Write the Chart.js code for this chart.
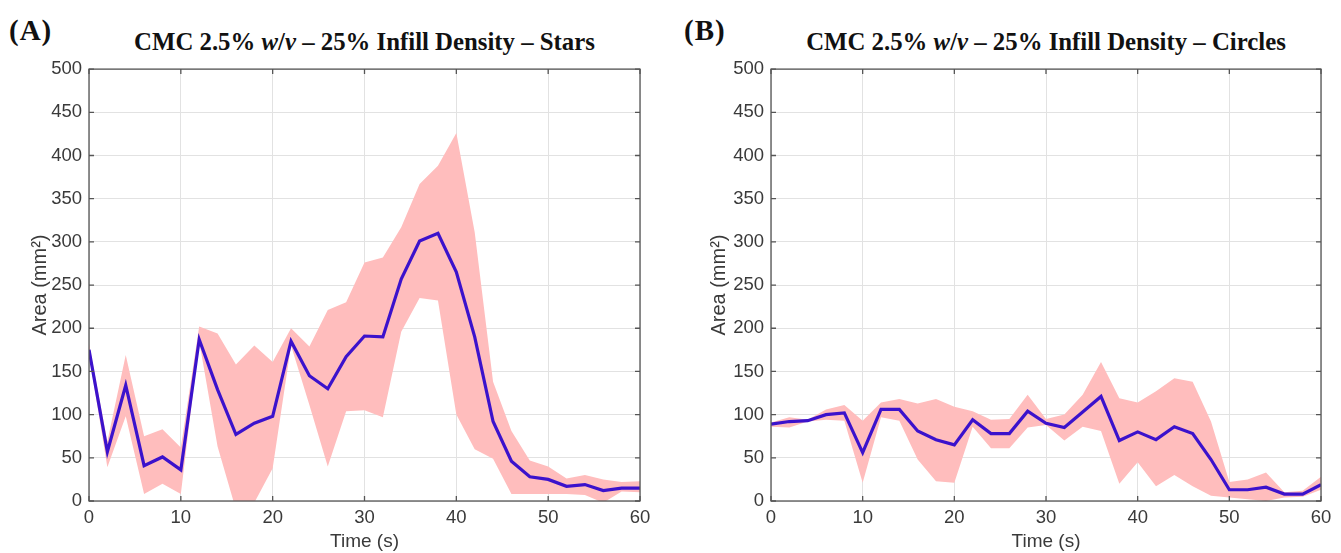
<!DOCTYPE html>
<html>
<head>
<meta charset="utf-8">
<title>CMC 2.5% w/v – 25% Infill Density</title>
<script src="https://cdn.jsdelivr.net/npm/chart.js@4/dist/chart.umd.min.js"></script>
<style>
  html, body {
    margin: 0;
    padding: 0;
    background: #fff;
    width: 1341px;
    height: 553px;
    overflow: hidden;
  }
  .panel-label {
    position: absolute;
    font-family: "Liberation Serif", "Times New Roman", serif;
    font-weight: bold;
    font-size: 29px;
    line-height: 29px;
    letter-spacing: 1px;
    color: #111;
  }
  .panel-title {
    position: absolute;
    font-family: "Liberation Serif", "Times New Roman", serif;
    font-weight: bold;
    font-size: 24.8px;
    line-height: 25px;
    text-align: center;
    color: #111;
    white-space: nowrap;
  }
  canvas {
    position: absolute;
  }
</style>
</head>
<body>
<div class="panel-label" style="left: 9px; top: 16px">(A)</div>
<div class="panel-title" style="left: 89px; top: 29px; width: 551px">CMC 2.5% <i>w</i>/<i>v</i> – 25% Infill Density – Stars</div>
<canvas id="starsChart" width="660" height="502" style="left: 0px; top: 51px"></canvas>

<div class="panel-label" style="left: 684px; top: 16px">(B)</div>
<div class="panel-title" style="left: 771px; top: 29px; width: 550px">CMC 2.5% <i>w</i>/<i>v</i> – 25% Infill Density – Circles</div>
<canvas id="circlesChart" width="671" height="502" style="left: 670px; top: 51px"></canvas>

<script>
// sampling times (s)
const timeSec = [0, 2, 4, 6, 8, 10, 12, 14, 16, 18, 20, 22, 24, 26, 28, 30,
  32, 34, 36, 38, 40, 42, 44, 46, 48, 50, 52, 54, 56, 58, 60];

// (A) stars: mean area and the shaded band (mm^2)
const starsMean = [175, 57, 134, 41, 51, 36, 187, 129, 77, 90, 98, 185, 145, 130, 167, 191,
  190, 257, 301, 310, 265, 190, 92, 46, 28, 25, 17, 19, 12, 15, 15];
const starsUpper = [182, 69, 169, 75, 83, 62, 202, 194, 158, 180, 161, 200, 179, 221, 230, 276,
  282, 317, 367, 388, 426, 311, 138, 81, 47, 40, 26, 30, 25, 22, 23];
const starsLower = [170, 39, 98, 8, 20, 8, 185, 63, -10, -2, 38, 180, 111, 40, 104, 105,
  97, 196, 235, 232, 100, 60, 49, 8, 8, 8, 8, 7, -2, 11, 10];

// (B) circles
const circlesMean = [89, 92, 93, 100, 102, 56, 106, 106, 81, 71, 65, 94, 78, 78, 104, 90,
  85, 103, 121, 70, 80, 71, 86, 78, 48, 13, 13, 16, 8, 8, 19];
const circlesUpper = [91, 97, 94, 106, 111, 93, 114, 118, 113, 118, 109, 104, 94, 95, 123, 95,
  100, 123, 161, 119, 114, 127, 142, 138, 92, 22, 25, 33, 10, 12, 28];
const circlesLower = [86, 85, 92, 94, 93, 21, 97, 93, 48, 23, 21, 86, 61, 61, 85, 88,
  70, 86, 81, 20, 45, 17, 30, 17, 6, 4, 2, 0, 4, 5, 13];

const xTicks = [0, 10, 20, 30, 40, 50, 60];
const yTicks = [0, 50, 100, 150, 200, 250, 300, 350, 400, 450, 500];

const lineColor = "#3b12cc";
const bandColor = "#ffbdbd";
const axisFont = "'Liberation Sans', Arial, Helvetica, sans-serif";

function toPoints(values) {
  return values.map((v, i) => ({ x: timeSec[i], y: v }));
}

// box around the axes with short inward ticks on every side
const boxTicks = {
  id: "boxTicks",
  afterDraw(chart) {
    const { ctx, chartArea: a, scales } = chart;
    const len = 5;
    ctx.save();
    ctx.strokeStyle = "#555";
    ctx.lineWidth = 1.3;
    ctx.strokeRect(a.left, a.top, a.right - a.left, a.bottom - a.top);
    ctx.beginPath();
    xTicks.forEach((t) => {
      const px = scales.x.getPixelForValue(t);
      ctx.moveTo(px, a.bottom);
      ctx.lineTo(px, a.bottom - len);
      ctx.moveTo(px, a.top);
      ctx.lineTo(px, a.top + len);
    });
    yTicks.forEach((t) => {
      const py = scales.y.getPixelForValue(t);
      ctx.moveTo(a.left, py);
      ctx.lineTo(a.left + len, py);
      ctx.moveTo(a.right, py);
      ctx.lineTo(a.right - len, py);
    });
    ctx.stroke();
    ctx.restore();
  },
};

function makePanel(canvasId, mean, upper, lower, yAxisWidth, yTitlePad) {
  var ctx = document.getElementById(canvasId).getContext("2d");
  return new Chart(ctx, {
    type: "line",
    data: {
      datasets: [
        {
          label: "Mean",
          data: toPoints(mean),
          borderColor: lineColor,
          borderWidth: 3.2,
          pointRadius: 0,
          fill: false,
          tension: 0,
        },
        {
          label: "Upper",
          data: toPoints(upper),
          borderWidth: 0,
          borderColor: "rgba(0,0,0,0)",
          backgroundColor: bandColor,
          pointRadius: 0,
          fill: "+1",
          tension: 0,
        },
        {
          label: "Lower",
          data: toPoints(lower),
          borderWidth: 0,
          borderColor: "rgba(0,0,0,0)",
          pointRadius: 0,
          fill: false,
          tension: 0,
        },
      ],
    },
    options: {
      responsive: false,
      animation: false,
      devicePixelRatio: 1,
      layout: {
        padding: { top: 12, right: 20, left: 0, bottom: 0 },
      },
      plugins: {
        legend: { display: false },
        tooltip: { enabled: false },
      },
      scales: {
        x: {
          type: "linear",
          min: 0,
          max: 60,
          afterBuildTicks: (scale) => {
            scale.ticks = xTicks.map((v) => ({ value: v }));
          },
          afterFit: (scale) => {
            scale.height = 52;
          },
          ticks: {
            color: "#3a3a3a",
            padding: 6,
            maxRotation: 0,
            font: { family: axisFont, size: 18.5 },
          },
          grid: {
            color: "#e2e2e2",
            lineWidth: 1,
            drawTicks: false,
          },
          border: { display: false },
          title: {
            display: true,
            text: "Time (s)",
            color: "#3a3a3a",
            font: { family: axisFont, size: 19 },
            padding: { top: 0, bottom: 0 },
          },
        },
        y: {
          min: 0,
          max: 500,
          afterBuildTicks: (scale) => {
            scale.ticks = yTicks.map((v) => ({ value: v }));
          },
          afterFit: (scale) => {
            scale.width = yAxisWidth;
          },
          ticks: {
            color: "#3a3a3a",
            padding: 7,
            font: { family: axisFont, size: 18.5 },
          },
          grid: {
            color: "#e2e2e2",
            lineWidth: 1,
            drawTicks: false,
          },
          border: { display: false },
          title: {
            display: true,
            text: "Area (mm²)",
            color: "#3a3a3a",
            font: { family: axisFont, size: 20 },
            padding: { top: yTitlePad, bottom: 0 },
          },
        },
      },
    },
    plugins: [boxTicks],
  });
}

makePanel("starsChart", starsMean, starsUpper, starsLower, 89, 28);
makePanel("circlesChart", circlesMean, circlesUpper, circlesLower, 101, 37);
</script>
</body>
</html>
